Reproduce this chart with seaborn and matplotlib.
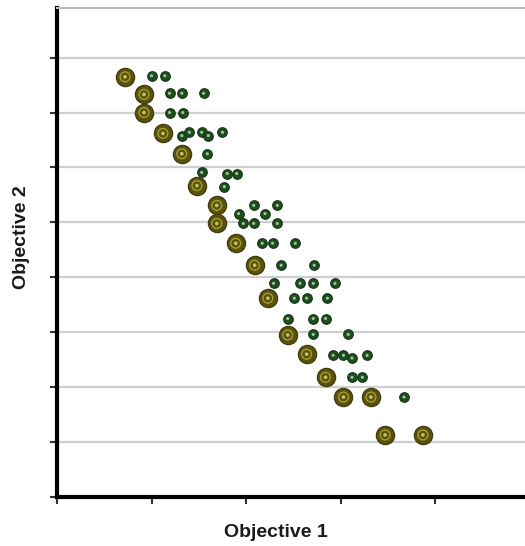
import matplotlib
matplotlib.use('Agg')
import matplotlib.pyplot as plt
import seaborn as sns
import pandas as pd

# large markers (front solutions)
front_x = [0.72, 0.92, 0.92, 1.12, 1.32, 1.48, 1.69, 1.69, 1.89, 2.09,
           2.23, 2.44, 2.64, 2.84, 3.03, 3.32, 3.47, 3.87]
front_y = [7.65, 7.33, 7.00, 6.62, 6.25, 5.67, 5.31, 4.98, 4.62, 4.22,
           3.62, 2.95, 2.60, 2.18, 1.82, 1.82, 1.13, 1.13]

# small markers (other solutions)
other_x = [1.00, 1.14, 1.19, 1.32, 1.55, 1.19, 1.33, 1.32, 1.40, 1.53,
           1.60, 1.75, 1.59, 1.53, 1.80, 1.90, 1.77, 2.08, 2.33, 1.92,
           2.20, 1.97, 2.08, 2.33, 2.17, 2.28, 2.52, 2.37, 2.72, 2.29,
           2.57, 2.71, 2.94, 2.51, 2.64, 2.86, 2.44, 2.71, 2.84, 2.71,
           3.08, 2.92, 3.03, 3.12, 3.28, 3.12, 3.23, 3.67]
other_y = [7.67, 7.67, 7.35, 7.35, 7.35, 7.00, 7.00, 6.58, 6.64, 6.64,
           6.58, 6.64, 6.25, 5.91, 5.89, 5.89, 5.65, 5.31, 5.31, 5.16,
           5.16, 4.98, 4.98, 4.98, 4.62, 4.62, 4.62, 4.22, 4.22, 3.89,
           3.89, 3.89, 3.89, 3.62, 3.62, 3.62, 3.25, 3.25, 3.25, 2.96,
           2.96, 2.58, 2.58, 2.53, 2.58, 2.18, 2.18, 1.82]

x_ticks = [0, 1, 2, 3, 4]
y_ticks = [0, 1, 2, 3, 4, 5, 6, 7, 8]

df_front = pd.DataFrame({'obj1': front_x, 'obj2': front_y})
df_other = pd.DataFrame({'obj1': other_x, 'obj2': other_y})

sns.set_style('white')
plt.rcParams['font.family'] = ['Liberation Sans', 'DejaVu Sans']

fig = plt.figure(figsize=(5.25, 5.46), dpi=100)
ax = fig.add_axes([0.1086, 0.0897, 0.8914, 0.8953])

ax.set_yticks(y_ticks)
ax.set_xticks(x_ticks)
ax.yaxis.grid(True, color='#cfcfcf', linewidth=1.6)
ax.set_axisbelow(True)

# other solutions: dark green disk with light centre
sns.scatterplot(data=df_other, x='obj1', y='obj2', ax=ax, s=48,
                color='#1f4d1f', edgecolor='#143514', linewidth=0.8, zorder=3)
sns.scatterplot(data=df_other, x='obj1', y='obj2', ax=ax, s=5,
                color='#9cc79c', edgecolor='none', linewidth=0, zorder=4)

# front solutions: olive disk with yellow ring
sns.scatterplot(data=df_front, x='obj1', y='obj2', ax=ax, s=175,
                color='#57520f', edgecolor='#3a370a', linewidth=0.8, zorder=5)
sns.scatterplot(data=df_front, x='obj1', y='obj2', ax=ax, s=50,
                color='none', edgecolor='#a99e2a', linewidth=1.0, zorder=6)
sns.scatterplot(data=df_front, x='obj1', y='obj2', ax=ax, s=7,
                color='#c9c060', edgecolor='none', linewidth=0, zorder=7)

ax.set_xlim(0, 4.95)
ax.set_ylim(0, 8.9)

for side in ['left', 'bottom']:
    ax.spines[side].set_color('black')
    ax.spines[side].set_linewidth(3)
ax.spines['top'].set_color('#bbbbbb')
ax.spines['top'].set_linewidth(1.5)
ax.spines['right'].set_visible(False)

ax.tick_params(axis='both', direction='out', length=5, width=1.5,
               color='#333333', bottom=True, left=True)
ax.set_xticklabels([])
ax.set_yticklabels([])

ax.set_xlabel('Objective 1', fontsize=14, fontweight='bold', color='#1a1a1a')
ax.set_ylabel('Objective 2', fontsize=14, fontweight='bold', color='#1a1a1a')
ax.xaxis.set_label_coords(0.468, -0.055)
ax.yaxis.set_label_coords(-0.058, 0.532)

fig.savefig('out.png', dpi=100)
